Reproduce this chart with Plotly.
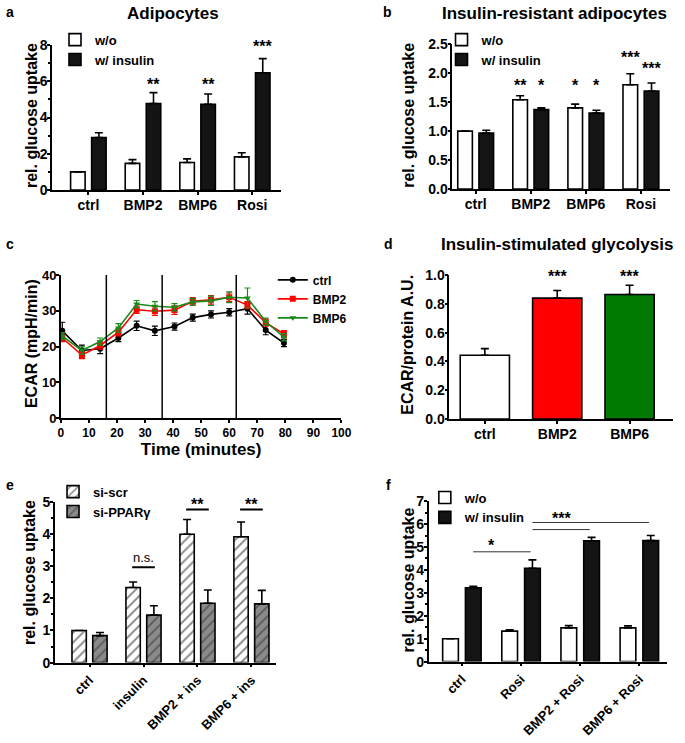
import plotly.graph_objects as go

W, H = 685, 743
FONT = "Liberation Sans, Arial, sans-serif"

# ---------------- data ----------------
# panel a: Adipocytes
a_cats = ["ctrl", "BMP2", "BMP6", "Rosi"]
a_wo = [1.0, 1.47, 1.52, 1.83]
a_wo_err = [0.0, 0.21, 0.20, 0.23]
a_ins = [2.90, 4.78, 4.74, 6.48]
a_ins_err = [0.26, 0.60, 0.56, 0.78]
a_sig = ["", "**", "**", "***"]
a_sig_y = [0, 5.78, 5.78, 7.85]

# panel b: Insulin-resistant adipocytes
b_cats = ["ctrl", "BMP2", "BMP6", "Rosi"]
b_wo = [1.0, 1.54, 1.40, 1.80]
b_wo_err = [0.0, 0.07, 0.065, 0.19]
b_ins = [0.965, 1.37, 1.31, 1.69]
b_ins_err = [0.05, 0.03, 0.05, 0.14]
b_sig_wo = ["", "**", "*", "***"]
b_sig_wo_y = [0, 1.77, 1.77, 2.25]
b_sig_ins = ["", "*", "*", "***"]
b_sig_ins_y = [0, 1.77, 1.77, 2.06]

# panel c: ECAR time course
c_time = [0.5, 7.5, 14, 20.5, 27, 33.5, 40.5, 47, 53.5, 60, 66.5, 73, 79.5]
c_ctrl = [24.4, 18.9, 19.4, 22.4, 25.8, 24.4, 25.6, 28.1, 29.0, 29.6, 30.6, 24.6, 21.0]
c_ctrl_err = [2.4, 1.5, 1.4, 1.0, 1.3, 1.3, 1.0, 1.0, 1.0, 1.0, 1.5, 1.3, 1.0]
c_bmp2 = [22.4, 17.6, 20.3, 24.0, 30.3, 29.9, 30.2, 32.7, 33.1, 33.8, 31.6, 26.7, 23.5]
c_bmp2_err = [1.0, 1.0, 1.0, 1.0, 1.0, 1.2, 1.2, 1.0, 1.2, 1.2, 1.0, 1.0, 1.0]
c_bmp6 = [22.9, 18.9, 21.4, 25.2, 31.9, 31.3, 31.0, 32.5, 32.8, 33.8, 33.6, 27.0, 22.6]
c_bmp6_err = [1.0, 1.0, 1.0, 1.2, 1.0, 1.3, 1.0, 1.0, 1.3, 1.5, 2.8, 1.0, 1.0]
c_events = [16.2, 36.1, 62.5]
c_event_labels = ["Insulin", "Glucose", "2-DG"]

# panel d: Insulin-stimulated glycolysis
d_cats = ["ctrl", "BMP2", "BMP6"]
d_vals = [0.443, 0.840, 0.865]
d_err = [0.046, 0.053, 0.065]
d_sig = ["", "***", "***"]

# panel e: siRNA
e_cats = ["ctrl", "insulin", "BMP2 + ins", "BMP6 + ins"]
e_scr = [1.0, 2.34, 4.00, 3.92]
e_scr_err = [0.0, 0.17, 0.46, 0.46]
e_ppar = [0.84, 1.48, 1.85, 1.83]
e_ppar_err = [0.10, 0.29, 0.41, 0.42]
e_brackets = [(1, "n.s.", 2.97), (2, "**", 4.77), (3, "**", 4.77)]

# panel f: Rosi combinations
f_cats = ["ctrl", "Rosi", "BMP2 + Rosi", "BMP6 + Rosi"]
f_wo = [1.0, 1.33, 1.47, 1.47]
f_wo_err = [0.0, 0.06, 0.10, 0.09]
f_ins = [3.22, 4.07, 5.27, 5.28]
f_ins_err = [0.07, 0.37, 0.15, 0.22]
f_brackets = [(0, 1, 4.79), (1, 2, 5.76), (1, 3, 6.07)]
f_bracket_text = [("*", 0.5, 5.0), ("***", 1.69, 6.2)]

# ---------------- helpers (pixel -> paper) ----------------
def px(x):
    return min(1.0, max(0.0, x / W))

def py(y):
    return min(1.0, max(0.0, 1 - y / H))

def dx(l, r):
    return [px(l), px(r)]

def dy(bot, top):
    return [py(bot), py(top)]

BLACK = "#141414"
SLOT = 0.385
SIG_SHIFT = 1

def tfont(size=14, weight="bold"):
    return dict(family=FONT, size=size, color="black", weight=weight)

def errup(arr, color="black"):
    return dict(type="data", array=arr, arrayminus=[0] * len(arr), symmetric=False,
                color=color, thickness=1.6, width=4)

def xaxis_cat(dom, anchor, rng, angle=0, size=14, standoff=-2):
    return dict(domain=dom, anchor=anchor, type="category", range=rng,
                showline=True, linecolor="black", linewidth=1.6, ticks="outside",
                ticklen=3, tickwidth=1.5, tickcolor="black", showgrid=False,
                zeroline=False, tickfont=tfont(size), tickangle=angle,
                ticklabelstandoff=standoff)

def yaxis_lin(dom, anchor, rng, dtick, fmt=None, minor=None, size=14):
    d = dict(domain=dom, anchor=anchor, range=rng, dtick=dtick, tick0=0,
             showline=True, linecolor="black", linewidth=1.6, ticks="outside",
             ticklen=3, tickwidth=1.5, tickcolor="black", showgrid=False,
             zeroline=False, tickfont=tfont(size), ticklabelstandoff=-3)
    if fmt:
        d["tickformat"] = fmt
    if minor:
        d["minor"] = dict(dtick=minor, ticks="outside", ticklen=2, tickwidth=1.5,
                          tickcolor="black", showgrid=False)
    return d

fig = go.Figure()
annotations = []
shapes = []

def ann(x, y, text, xref="paper", yref="paper", size=14, weight="bold", **kw):
    d = dict(x=x, y=y, xref=xref, yref=yref, text=text, showarrow=False,
             font=tfont(size, weight))
    d.update(kw)
    annotations.append(d)

def pann(x, y, text, size=14, **kw):
    kw.setdefault("yanchor", "middle")
    ann(px(x), py(y), text, size=size, xanchor="center", **kw)

# ---------------- panel a ----------------
fig.add_bar(x=a_cats, y=a_wo, name="w/o", xaxis="x", yaxis="y", legend="legend",
            marker=dict(color="white", line=dict(color="black", width=1.6)),
            error_y=errup(a_wo_err), offsetgroup="wo")
fig.add_bar(x=a_cats, y=a_ins, name="w/ insulin", xaxis="x", yaxis="y", legend="legend",
            marker=dict(color=BLACK, line=dict(color="black", width=1.6)),
            error_y=errup(a_ins_err), offsetgroup="ins")
for i, (s, yy) in enumerate(zip(a_sig, a_sig_y)):
    if s:
        ann(i + SLOT / 2, yy, s, "x", "y", size=16, yanchor="middle", yshift=SIG_SHIFT)

# ---------------- panel b ----------------
fig.add_bar(x=b_cats, y=b_wo, name="w/o", xaxis="x2", yaxis="y2", legend="legend2",
            marker=dict(color="white", line=dict(color="black", width=1.6)),
            error_y=errup(b_wo_err), offsetgroup="wo")
fig.add_bar(x=b_cats, y=b_ins, name="w/ insulin", xaxis="x2", yaxis="y2", legend="legend2",
            marker=dict(color=BLACK, line=dict(color="black", width=1.6)),
            error_y=errup(b_ins_err), offsetgroup="ins")
for i in range(4):
    if b_sig_wo[i]:
        ann(i - SLOT / 2, b_sig_wo_y[i], b_sig_wo[i], "x2", "y2", size=16, yanchor="middle", yshift=SIG_SHIFT)
    if b_sig_ins[i]:
        ann(i + SLOT / 2, b_sig_ins_y[i], b_sig_ins[i], "x2", "y2", size=16, yanchor="middle", yshift=SIG_SHIFT)

# ---------------- panel c ----------------
for name, ys, es, col, sym in [("ctrl", c_ctrl, c_ctrl_err, "black", "circle"),
                               ("BMP2", c_bmp2, c_bmp2_err, "#ff0000", "square"),
                               ("BMP6", c_bmp6, c_bmp6_err, "#1a8a1a", "triangle-down")]:
    fig.add_scatter(x=c_time, y=ys, name=name, xaxis="x3", yaxis="y3", legend="legend3",
                    mode="lines+markers", line=dict(color=col, width=1.6),
                    marker=dict(color=col, size=6, symbol=sym),
                    error_y=dict(type="data", array=es, color=col, thickness=1.2, width=3))
for t, lab in zip(c_events, c_event_labels):
    shapes.append(dict(type="line", xref="x3", yref="y3", x0=t, x1=t, y0=0, y1=40.6,
                       line=dict(color="black", width=1.5)))
    ann(t, 42.2, lab, "x3", "y3", size=13, weight="normal", yanchor="middle")

# ---------------- panel d ----------------
fig.add_bar(x=d_cats, y=d_vals, xaxis="x4", yaxis="y4", showlegend=False, width=0.68,
            marker=dict(color=["white", "#ff0000", "#007a00"], line=dict(color="black", width=1.6)),
            error_y=errup(d_err))
for i, s in enumerate(d_sig):
    if s:
        ann(i, 0.986, s, "x4", "y4", size=16, yanchor="middle", yshift=SIG_SHIFT)

# ---------------- panel e ----------------
fig.add_bar(x=e_cats, y=e_scr, name="si-scr", xaxis="x5", yaxis="y5", legend="legend4",
            marker=dict(color="white", line=dict(color="black", width=1.6),
                        pattern=dict(shape="/", fgcolor="black", bgcolor="white", size=7, solidity=0.25)),
            error_y=errup(e_scr_err), offsetgroup="scr")
fig.add_bar(x=e_cats, y=e_ppar, name="si-PPARγ", xaxis="x5", yaxis="y5", legend="legend4",
            marker=dict(color="#8a8a8a", line=dict(color="black", width=1.6),
                        pattern=dict(shape="/", fgcolor="#2a2a2a", bgcolor="#8a8a8a", size=7, solidity=0.25)),
            error_y=errup(e_ppar_err), offsetgroup="ppar")
for i, lab, yy in e_brackets:
    shapes.append(dict(type="line", xref="x5", yref="y5", x0=i - 0.21, x1=i + 0.21, y0=yy, y1=yy,
                       line=dict(color="black", width=2)))
    if lab == "n.s.":
        ann(i, yy, lab, "x5", "y5", size=13, weight="normal", yanchor="bottom", yshift=0)
    else:
        ann(i, yy, lab, "x5", "y5", size=16, yanchor="bottom", yshift=-5)

# ---------------- panel f ----------------
fig.add_bar(x=f_cats, y=f_wo, name="w/o", xaxis="x6", yaxis="y6", legend="legend5",
            marker=dict(color="white", line=dict(color="black", width=1.6)),
            error_y=errup(f_wo_err), offsetgroup="wo")
fig.add_bar(x=f_cats, y=f_ins, name="w/ insulin", xaxis="x6", yaxis="y6", legend="legend5",
            marker=dict(color=BLACK, line=dict(color="black", width=1.6)),
            error_y=errup(f_ins_err), offsetgroup="ins")
for c0, c1, yy in f_brackets:
    shapes.append(dict(type="line", xref="x6", yref="y6", x0=c0 + SLOT / 2, x1=c1 + SLOT / 2 - 0.03,
                       y0=yy, y1=yy, line=dict(color="#333333", width=1)))
for txt, xx, yy in f_bracket_text:
    ann(xx, yy, txt, "x6", "y6", size=16, yanchor="middle", yshift=SIG_SHIFT)

# ---------------- titles, axis titles & panel letters ----------------
pann(173, 0, "Adipocytes", size=17, yanchor="top", yshift=6)
pann(562, 0, "Insulin-resistant adipocytes", size=17, yanchor="top", yshift=6)
pann(565, 242, "Insulin-stimulated glycolysis", size=17)
pann(7, 0, "a", size=14, yanchor="top", yshift=6)
pann(392, 0, "b", size=14, yanchor="top", yshift=6)
for lx, ly, lt in [(7, 241, "c"), (393, 241, "d"), (7, 487, "e"), (393, 487, "f")]:
    pann(lx, ly, lt, size=14)
for tx, ty, tt in [(29, 110, "rel. glucose uptake"), (413, 110, "rel. glucose uptake"),
                   (29, 343, "ECAR (mpH/min)"), (412, 344, "ECAR/protein A.U."),
                   (27, 577, "rel. glucose uptake"), (413, 585, "rel. glucose uptake")]:
    pann(tx, ty, tt, size=16, textangle=-90)

legend_common = dict(bgcolor="rgba(0,0,0,0)", font=tfont(13), xanchor="left", yanchor="top",
                     itemclick=False, itemdoubleclick=False, tracegroupgap=0)

fig.update_layout(
    width=W, height=H, margin=dict(l=0, r=0, t=0, b=0),
    paper_bgcolor="white", plot_bgcolor="white",
    barmode="group", bargap=0.23, bargroupgap=0.31,
    font=dict(family=FONT, color="black"),
    xaxis=xaxis_cat(dx(50, 283), "y", [-0.665, 3.52]),
    yaxis=yaxis_lin(dy(186, 38), "x", [0, 8], 2, minor=1),
    xaxis2=xaxis_cat(dx(458, 680), "y2", [-0.424, 3.53]),
    yaxis2=yaxis_lin(dy(185, 37), "x2", [0, 2.5], 0.5, fmt=".1f"),
    xaxis3=dict(domain=dx(59, 345), anchor="y3", range=[0, 100], dtick=10, showline=True,
                linecolor="black", linewidth=1.6, ticks="outside", ticklen=3, tickwidth=1.5,
                tickcolor="black", showgrid=False, zeroline=False, tickfont=tfont(12),
                title=dict(text="Time (minutes)", font=tfont(17), standoff=4)),
    yaxis3=yaxis_lin(dy(419, 273), "x3", [0, 40], 10, size=13),
    xaxis4=xaxis_cat(dx(455, 683), "y4", [-0.49, 2.6]),
    yaxis4=yaxis_lin(dy(420, 273), "x4", [0, 1.0], 0.2, fmt=".1f"),
    xaxis5=xaxis_cat(dx(53, 278), "y5", [-0.64, 3.45], angle=-45, size=13, standoff=0),
    yaxis5=yaxis_lin(dy(669, 505), "x5", [0, 5], 1, minor=0.5),
    xaxis6=xaxis_cat(dx(434, 677), "y6", [-0.56, 3.47], angle=-45, size=13, standoff=0),
    yaxis6=yaxis_lin(dy(668, 504), "x6", [0, 7], 1, minor=0.5),
    legend=dict(x=px(53), y=py(17), **legend_common),
    legend2=dict(x=px(447), y=py(17), **legend_common),
    legend3=dict(x=px(275), y=py(263), **{**legend_common, "font": tfont(12)}),
    legend4=dict(x=px(51), y=py(479), **legend_common),
    legend5=dict(x=px(430), y=py(485), **legend_common),
    annotations=annotations, shapes=shapes,
)

# the page's default 8px body margin would shift the 685x743 figure; remove it
fig.write_html("out.html", config={"displayModeBar": False},
               post_script="document.body.style.margin='0px';")
